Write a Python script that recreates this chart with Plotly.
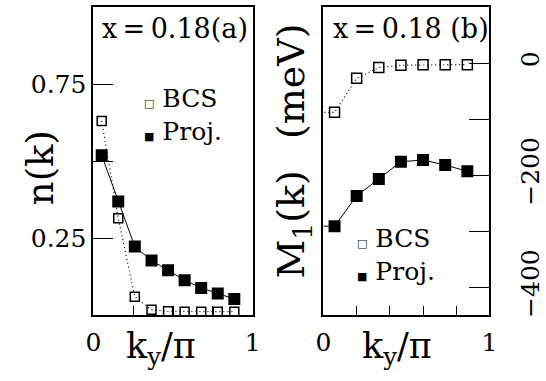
import plotly.graph_objects as go

# ---- data ----
ka = [0.052, 0.156, 0.260, 0.365, 0.469, 0.573, 0.677, 0.781, 0.885]
n_bcs = [0.630, 0.315, 0.060, 0.018, 0.013, 0.012, 0.012, 0.012, 0.012]
n_proj = [0.519, 0.369, 0.223, 0.178, 0.146, 0.114, 0.089, 0.071, 0.053]

kb = [1/15, 3/15, 5/15, 7/15, 9/15, 11/15, 13/15]
m_bcs = [-88, -27, -8, -4, -3, -3, -3]
m_proj = [-291, -237, -207, -176, -173, -182, -193]

ya_ticks = [0.25, 0.5, 0.75]
ya_text = ["0.25", "", "0.75"]
yb_ticks = [0, -100, -200, -300, -400]
yb_text = ["0", "", "\u2212200", "", "\u2212400"]

FONT = "DejaVu Serif"

# lines extend to mirror point at negative k (symmetric)
kb_ext = [-kb[0]] + kb
m_bcs_ext = [m_bcs[0]] + m_bcs
m_proj_ext = [m_proj[0]] + m_proj

DOT = "1px,3px"

fig = go.Figure()

fig.add_trace(go.Scatter(x=ka, y=n_bcs, mode="lines+markers", xaxis="x", yaxis="y",
                         line=dict(color="black", width=1.2, dash=DOT),
                         marker=dict(symbol="square-open", size=9, color="black", line=dict(width=1.5))))
fig.add_trace(go.Scatter(x=ka, y=n_proj, mode="lines+markers", xaxis="x", yaxis="y",
                         line=dict(color="black", width=1),
                         marker=dict(symbol="square", size=12, color="black")))
fig.add_trace(go.Scatter(x=kb_ext, y=m_bcs_ext, mode="lines+markers", xaxis="x2", yaxis="y2",
                         line=dict(color="black", width=1.2, dash=DOT),
                         marker=dict(symbol="square-open", size=10, color="black", line=dict(width=1.5))))
fig.add_trace(go.Scatter(x=kb_ext, y=m_proj_ext, mode="lines+markers", xaxis="x2", yaxis="y2",
                         line=dict(color="black", width=1),
                         marker=dict(symbol="square", size=12, color="black")))

W, H = 546, 381
ax_common = dict(showline=True, linecolor="black", linewidth=2, mirror=True, showgrid=False,
                 zeroline=False, ticks="inside", tickcolor="black",
                 tickfont=dict(family=FONT, size=25, color="black"))

fig.update_layout(
    width=W, height=H, margin=dict(l=0, r=0, t=0, b=0),
    paper_bgcolor="white", plot_bgcolor="white", showlegend=False,
    xaxis=dict(domain=[88/W, 252/W], range=[0, 1], anchor="y",
               tickvals=[0, 0.25, 0.5, 0.75, 1], ticktext=["0", "", "", "", "1"],
               ticklen=9, tickwidth=1.3, ticklabelstandoff=4, **ax_common),
    yaxis=dict(domain=[1-317/H, 1-7/H], range=[0, 1], anchor="x",
               tickvals=ya_ticks, ticktext=ya_text, ticklen=20, tickwidth=1.3,
               ticklabelstandoff=0, **ax_common),
    xaxis2=dict(domain=[325/W, 496/W], range=[0, 1], anchor="y2",
                tickvals=[0, 0.2, 0.4, 0.6, 0.8, 1], ticktext=["0", "", "", "", "", "1"],
                ticklen=9, tickwidth=1.3, ticklabelstandoff=4, **ax_common),
    yaxis2=dict(domain=[1-317/H, 1-7/H], range=[-450, 100], anchor="x2", side="right",
                tickvals=yb_ticks, ticktext=yb_text, ticklen=20, tickwidth=1.3,
                tickangle=-90, ticklabelstandoff=18, **ax_common),
)

def ann(text, x, y, size=24, angle=0, xanchor="center"):
    fig.add_annotation(text=text, x=x, y=y, xref="paper", yref="paper", showarrow=False,
                       xanchor=xanchor, yanchor="middle", textangle=angle,
                       font=dict(family=FONT, size=size, color="black"))

# panel labels
ann("x\u2009=\u20090.18(a)", 172/W, 1-29/H, size=27)
ann("x\u2009=\u20090.18 (b)", 415/W, 1-29/H, size=27)

# legends
sq_o = "<span style='font-size:11px'>\u25a1</span>"
sq_f = "<span style='font-size:11px'>\u25a0</span>"
ann(sq_o + " BCS", 138/W, 1-99/H, size=25, xanchor="left")
ann(sq_f + " Proj.", 138/W, 1-132/H, size=25, xanchor="left")
ann(sq_o + " BCS", 357/W, 1-240/H, size=25, xanchor="left")
ann(sq_f + " Proj.", 357/W, 1-273/H, size=25, xanchor="left")

# axis titles
ann("n(k)", 33/W, 1-169/H, size=37, angle=-90)
ann("k<sub>y</sub>/\u03c0", 158/W, 1-350/H, size=35)
ann("k<sub>y</sub>/\u03c0", 401/W, 1-350/H, size=35)
ann("M<sub>1</sub>(k)\u2002 (meV)", 294/W, 1-152/H, size=38, angle=-90)

fig.write_html("out.html", config={"displayModeBar": False},
               post_script="document.body.style.margin='0px';")
